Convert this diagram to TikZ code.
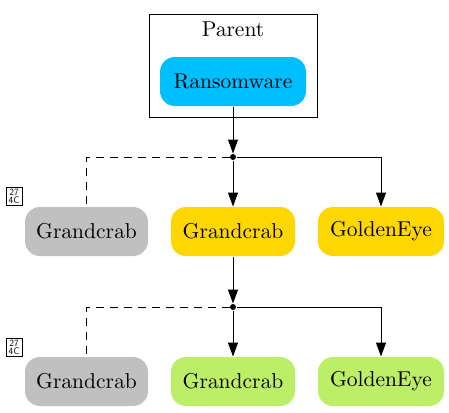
\documentclass[tikz,border=0pt]{standalone}
\usetikzlibrary{arrows.meta}
\definecolor{skyc}{HTML}{00BFFF}
\definecolor{goldc}{HTML}{FFD700}
\definecolor{greenc}{HTML}{BCEE68}
\definecolor{greyc}{HTML}{C0C0C0}
\font\famfont=cmr10 at 21.5pt
\begin{document}
\begin{tikzpicture}[x=1pt,y=-1pt,line width=1pt,
  fam/.style={rounded corners=15pt,minimum height=49pt,inner sep=0pt,font=\famfont},
  dot/.style={circle,fill,inner sep=0pt,minimum size=6pt},
  arr/.style={-{Triangle[length=14pt,width=10pt]}},
  miss/.style={draw,line width=0.8pt,inner sep=0.5pt,minimum width=16pt,minimum height=18pt,align=center,font=\sffamily\fontsize{9.5}{8}\selectfont}]
\useasboundingbox (0,0) rectangle (449,412);
\draw (149,15) rectangle (317,117); \node[font=\famfont] (par) at (233,29) {Parent};
\node[fam,fill=skyc,minimum width=146pt] (ran) at (233,81.5) {Ransomware};
% first row
\node[dot] (j1) at (233,157) {};
\node[fam,fill=greyc,minimum width=123pt] (g1) at (86.5,231.5) {Grandcrab};
\node[fam,fill=goldc,minimum width=124pt] (y1) at (233,231.5) {Grandcrab};
\node[fam,fill=goldc,minimum width=126pt] (e1) at (381,231.5) {GoldenEye};
\node[miss] (m1) at (14,196) {27\\4C};
\draw[arr] (ran) -- (j1); \draw[dash pattern=on 8pt off 6pt] (j1) -| (g1.north);
\draw[arr] (j1) -- (y1); \draw[arr] (j1) -| (e1);
% second row
\node[dot] (j2) at (233,307) {};
\node[fam,fill=greyc,minimum width=123pt] (g2) at (86.5,381.5) {Grandcrab};
\node[fam,fill=greenc,minimum width=124pt] (y2) at (233,381.5) {Grandcrab};
\node[fam,fill=greenc,minimum width=126pt] (e2) at (381,381.5) {GoldenEye};
\node[miss] (m2) at (14,347) {27\\4C};
\draw[arr] (y1) -- (j2); \draw[dash pattern=on 8pt off 6pt] (j2) -| (g2.north);
\draw[arr] (j2) -- (y2); \draw[arr] (j2) -| (e2);
\end{tikzpicture}
\end{document}
